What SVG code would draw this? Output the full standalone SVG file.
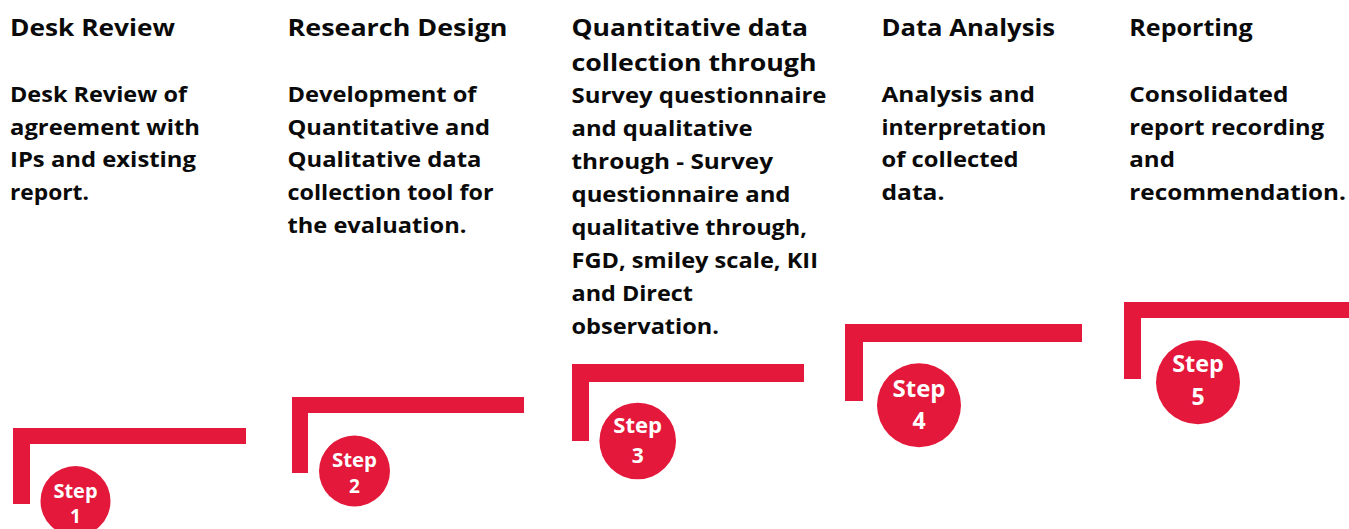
<svg xmlns="http://www.w3.org/2000/svg" width="1349" height="529" viewBox="0 0 1349 529">
<style>
  .h { font-family: "Open Sans", "Liberation Sans", sans-serif; font-weight: 700; font-size: 24px; fill: #0a0a0a; }
  .b { font-family: "Open Sans", "Liberation Sans", sans-serif; font-weight: 700; font-size: 22px; fill: #0a0a0a; }
  .bar { fill: #e3183a; }
  .dot { fill: #e3183a; }
  .s { font-family: "Open Sans", "Liberation Sans", sans-serif; font-weight: 700; fill: #ffffff; text-anchor: middle; }
</style>
<rect width="1349" height="529" fill="#ffffff"/>

<g id="step-1">
  <text class="h" x="10" y="36" textLength="165" lengthAdjust="spacingAndGlyphs">Desk Review</text>
  <text class="b" x="10" y="102" textLength="177" lengthAdjust="spacingAndGlyphs">Desk Review of</text>
  <text class="b" x="10" y="134.5" textLength="190" lengthAdjust="spacingAndGlyphs">agreement with</text>
  <text class="b" x="10" y="167" textLength="186" lengthAdjust="spacingAndGlyphs">IPs and existing</text>
  <text class="b" x="10" y="200" textLength="79" lengthAdjust="spacingAndGlyphs">report.</text>
  <path class="bar" d="M13 428 H246 V444 H30 V504 H13 Z"/>
  <circle class="dot" cx="75.5" cy="501" r="35"/>
  <text class="s" x="75.5" y="498" font-size="19" textLength="44" lengthAdjust="spacingAndGlyphs">Step</text>
  <text class="s" x="75.5" y="523" font-size="19">1</text>
</g>

<g id="step-2">
  <text class="h" x="287.5" y="36" textLength="220" lengthAdjust="spacingAndGlyphs">Research Design</text>
  <text class="b" x="287.5" y="102" textLength="189" lengthAdjust="spacingAndGlyphs">Development of</text>
  <text class="b" x="287.5" y="134.5" textLength="202.5" lengthAdjust="spacingAndGlyphs">Quantitative and</text>
  <text class="b" x="287.5" y="167" textLength="194" lengthAdjust="spacingAndGlyphs">Qualitative data</text>
  <text class="b" x="287.5" y="200" textLength="206" lengthAdjust="spacingAndGlyphs">collection tool for</text>
  <text class="b" x="287.5" y="233" textLength="179" lengthAdjust="spacingAndGlyphs">the evaluation.</text>
  <path class="bar" d="M292 397 H524 V413 H308 V473 H292 Z"/>
  <circle class="dot" cx="354.5" cy="471" r="35.5"/>
  <text class="s" x="354.5" y="467.3" font-size="19" textLength="45" lengthAdjust="spacingAndGlyphs">Step</text>
  <text class="s" x="354.5" y="493.3" font-size="19">2</text>
</g>

<g id="step-3">
  <text class="h" x="571.5" y="36" textLength="236.5" lengthAdjust="spacingAndGlyphs">Quantitative data</text>
  <text class="h" x="571.5" y="71" textLength="245" lengthAdjust="spacingAndGlyphs">collection through</text>
  <text class="b" x="571.5" y="103" textLength="255" lengthAdjust="spacingAndGlyphs">Survey questionnaire</text>
  <text class="b" x="571.5" y="136" textLength="181" lengthAdjust="spacingAndGlyphs">and qualitative</text>
  <text class="b" x="571.5" y="169" textLength="201.5" lengthAdjust="spacingAndGlyphs">through - Survey</text>
  <text class="b" x="571.5" y="202" textLength="219" lengthAdjust="spacingAndGlyphs">questionnaire and</text>
  <text class="b" x="571.5" y="235" textLength="235.5" lengthAdjust="spacingAndGlyphs">qualitative through,</text>
  <text class="b" x="571.5" y="268" textLength="246.5" lengthAdjust="spacingAndGlyphs">FGD, smiley scale, KII</text>
  <text class="b" x="571.5" y="301" textLength="121.5" lengthAdjust="spacingAndGlyphs">and Direct</text>
  <text class="b" x="571.5" y="334" textLength="147.5" lengthAdjust="spacingAndGlyphs">observation.</text>
  <path class="bar" d="M572 364 H804 V382 H589 V441 H572 Z"/>
  <circle class="dot" cx="637.7" cy="441" r="38.3"/>
  <text class="s" x="637.7" y="433.3" font-size="21" textLength="48.7" lengthAdjust="spacingAndGlyphs">Step</text>
  <text class="s" x="637.7" y="462.7" font-size="21">3</text>
</g>

<g id="step-4">
  <text class="h" x="881.5" y="36" textLength="173.5" lengthAdjust="spacingAndGlyphs">Data Analysis</text>
  <text class="b" x="881.5" y="102" textLength="153.5" lengthAdjust="spacingAndGlyphs">Analysis and</text>
  <text class="b" x="881.5" y="134.5" textLength="165" lengthAdjust="spacingAndGlyphs">interpretation</text>
  <text class="b" x="881.5" y="167" textLength="137" lengthAdjust="spacingAndGlyphs">of collected</text>
  <text class="b" x="881.5" y="200" textLength="63" lengthAdjust="spacingAndGlyphs">data.</text>
  <path class="bar" d="M845 324 H1082 V342 H863 V401 H845 Z"/>
  <circle class="dot" cx="919" cy="405.3" r="42"/>
  <text class="s" x="919" y="397.3" font-size="23" textLength="53" lengthAdjust="spacingAndGlyphs">Step</text>
  <text class="s" x="919" y="429.3" font-size="23">4</text>
</g>

<g id="step-5">
  <text class="h" x="1129.3" y="36" textLength="123.4" lengthAdjust="spacingAndGlyphs">Reporting</text>
  <text class="b" x="1129.3" y="102" textLength="159" lengthAdjust="spacingAndGlyphs">Consolidated</text>
  <text class="b" x="1129.3" y="134.5" textLength="194.7" lengthAdjust="spacingAndGlyphs">report recording</text>
  <text class="b" x="1129.3" y="167" textLength="45.7" lengthAdjust="spacingAndGlyphs">and</text>
  <text class="b" x="1129.3" y="200" textLength="216.7" lengthAdjust="spacingAndGlyphs">recommendation.</text>
  <path class="bar" d="M1124 302 H1349 V318 H1141 V379 H1124 Z"/>
  <circle class="dot" cx="1198" cy="382.3" r="42"/>
  <text class="s" x="1198" y="371.7" font-size="23" textLength="51.6" lengthAdjust="spacingAndGlyphs">Step</text>
  <text class="s" x="1198" y="405" font-size="23">5</text>
</g>
</svg>
